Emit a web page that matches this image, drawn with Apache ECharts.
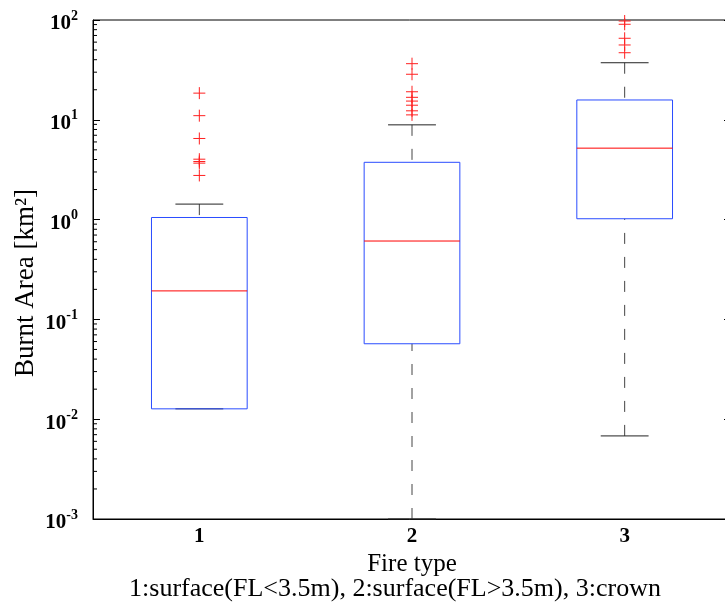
<!DOCTYPE html>
<html>
<head>
<meta charset="utf-8">
<script src="https://cdn.jsdelivr.net/npm/echarts@6/dist/echarts.min.js"></script>
<style>
  html, body { margin: 0; padding: 0; background: #fff; }
  #chart { width: 725px; height: 608px; }
</style>
</head>
<body>
<div id="chart"></div>
<script>
// box statistics per fire type (km²)
const categories = ['1', '2', '3'];
const whiskerLow = [0.0127, 0.001, 0.0068];
const quartile1 = [0.0127, 0.057, 1.02];
const medians = [0.193, 0.61, 5.2];
const quartile3 = [1.05, 3.75, 15.8];
const whiskerHigh = [1.43, 8.9, 37.3];

// outliers
const outliers1 = [18.5, 11.0, 6.5, 4.03, 3.82, 3.68, 2.77];
const outliers2 = [36.5, 28.6, 19.1, 16.8, 15.4, 14.0, 12.3, 11.2];
const outliers3 = [97.7, 90.6, 65.6, 56.2, 47.0];

// log axis ticks
const decades = [0.001, 0.01, 0.1, 1, 10];
const minorSteps = [2, 3, 4, 5, 6, 7, 8, 9];

const FONT = 'Liberation Serif';

const boxData = categories.map((c, i) => [i, whiskerLow[i], quartile1[i], medians[i], quartile3[i], whiskerHigh[i]]);
const outlierData = [];
[outliers1, outliers2, outliers3].forEach((arr, i) => {
  arr.forEach(v => outlierData.push([i, v]));
});
const minorData = [];
decades.forEach(d => minorSteps.forEach(s => minorData.push([0, d * s])));

function renderBox(params, api) {
  const cs = params.coordSys;
  const band = cs.width / categories.length;
  const half = band * 0.225;
  const capHalf = band * 0.1125;
  const i = api.value(0);
  const x = api.coord([i, 1])[0];
  const y = k => api.coord([i, api.value(k)])[1];
  const yLow = y(1), yQ1 = y(2), yMed = y(3), yQ3 = y(4), yHigh = y(5);
  const dash = { stroke: '#444', lineWidth: 1, lineDash: [11, 13] };
  const cap = { stroke: '#222', lineWidth: 1 };
  return {
    type: 'group',
    children: [
      { type: 'line', shape: { x1: x, y1: yLow, x2: x, y2: yQ1 }, style: dash },
      { type: 'line', shape: { x1: x, y1: yHigh, x2: x, y2: yQ3 }, style: dash },
      { type: 'line', shape: { x1: x - capHalf, y1: yLow, x2: x + capHalf, y2: yLow }, style: cap },
      { type: 'line', shape: { x1: x - capHalf, y1: yHigh, x2: x + capHalf, y2: yHigh }, style: cap },
      { type: 'rect', shape: { x: x - half, y: yQ3, width: half * 2, height: yQ1 - yQ3 },
        style: { fill: 'none', stroke: '#2a4cff', lineWidth: 1 } },
      { type: 'line', shape: { x1: x - half, y1: yMed, x2: x + half, y2: yMed },
        style: { stroke: '#ff0000', lineWidth: 1 } }
    ]
  };
}

function renderCross(params, api) {
  const p = api.coord([api.value(0), api.value(1)]);
  const s = 6;
  const st = { stroke: '#ff2020', lineWidth: 1 };
  return {
    type: 'group',
    children: [
      { type: 'line', shape: { x1: p[0] - s, y1: p[1], x2: p[0] + s, y2: p[1] }, style: st },
      { type: 'line', shape: { x1: p[0], y1: p[1] - s, x2: p[0], y2: p[1] + s }, style: st }
    ]
  };
}

function renderMinor(params, api) {
  const cs = params.coordSys;
  const yy = api.coord([0, api.value(1)])[1];
  const st = { stroke: '#000', lineWidth: 1 };
  return {
    type: 'group',
    children: [
      { type: 'line', shape: { x1: cs.x, y1: yy, x2: cs.x + 4, y2: yy }, style: st },
      { type: 'line', shape: { x1: cs.x + cs.width - 4, y1: yy, x2: cs.x + cs.width, y2: yy }, style: st }
    ]
  };
}

const chart = echarts.init(document.getElementById('chart'));
chart.setOption({
  animation: false,
  backgroundColor: '#fff',
  grid: {
    left: 93, right: -6, top: 20, bottom: 89,
    show: true, borderColor: '#000', borderWidth: 1,
    containLabel: false, outerBoundsMode: 'none'
  },
  xAxis: {
    type: 'category',
    data: categories,
    boundaryGap: true,
    axisLine: { lineStyle: { color: '#000', width: 1 } },
    axisTick: { show: false },
    splitLine: { show: false },
    axisLabel: { fontFamily: FONT, fontSize: 21, fontWeight: 'bold', color: '#000', margin: 7 },
    name: 'Fire type',
    nameLocation: 'middle',
    nameGap: 20,
    nameTextStyle: { fontFamily: FONT, fontSize: 25, color: '#000' }
  },
  yAxis: [
    {
      type: 'log',
      logBase: 10,
      min: 0.001,
      max: 100,
      axisLine: { show: true, lineStyle: { color: '#000', width: 1 } },
      axisTick: { show: true, inside: true, length: 7, lineStyle: { color: '#000' } },
      splitLine: { show: false },
      axisLabel: {
        margin: 15,
        formatter: v => '{b|10}{s|' + Math.round(Math.log10(v)) + '}',
        rich: {
          b: { fontFamily: FONT, fontSize: 21, fontWeight: 'bold', color: '#000', padding: [8, 0, 0, 0] },
          s: { fontFamily: FONT, fontSize: 14, fontWeight: 'bold', color: '#000', padding: [0, 0, 8, 0] }
        }
      }
    },
    {
      type: 'log',
      logBase: 10,
      min: 0.001,
      max: 100,
      position: 'right',
      axisLine: { show: true, lineStyle: { color: '#000', width: 1 } },
      axisTick: { show: true, inside: true, length: 7, lineStyle: { color: '#000' } },
      axisLabel: { show: false },
      splitLine: { show: false }
    }
  ],
  graphic: [
    {
      type: 'text',
      x: 26,
      y: 283,
      rotation: Math.PI / 2,
      style: {
        text: 'Burnt Area [km²]',
        fontFamily: FONT,
        fontSize: 27,
        fill: '#000',
        textAlign: 'center',
        textVerticalAlign: 'middle'
      }
    },
    {
      type: 'text',
      x: 395,
      y: 589,
      style: {
        text: '1:surface(FL<3.5m), 2:surface(FL>3.5m), 3:crown',
        fontFamily: FONT,
        fontSize: 26,
        fill: '#000',
        textAlign: 'center',
        textVerticalAlign: 'middle'
      }
    }
  ],
  series: [
    {
      type: 'custom',
      renderItem: renderMinor,
      data: minorData,
      encode: { x: 0, y: 1 },
      silent: true
    },
    {
      type: 'custom',
      renderItem: renderBox,
      data: boxData,
      encode: { x: 0, y: [1, 2, 3, 4, 5] }
    },
    {
      type: 'custom',
      renderItem: renderCross,
      data: outlierData,
      encode: { x: 0, y: 1 },
      clip: false
    }
  ]
});
</script>
</body>
</html>
